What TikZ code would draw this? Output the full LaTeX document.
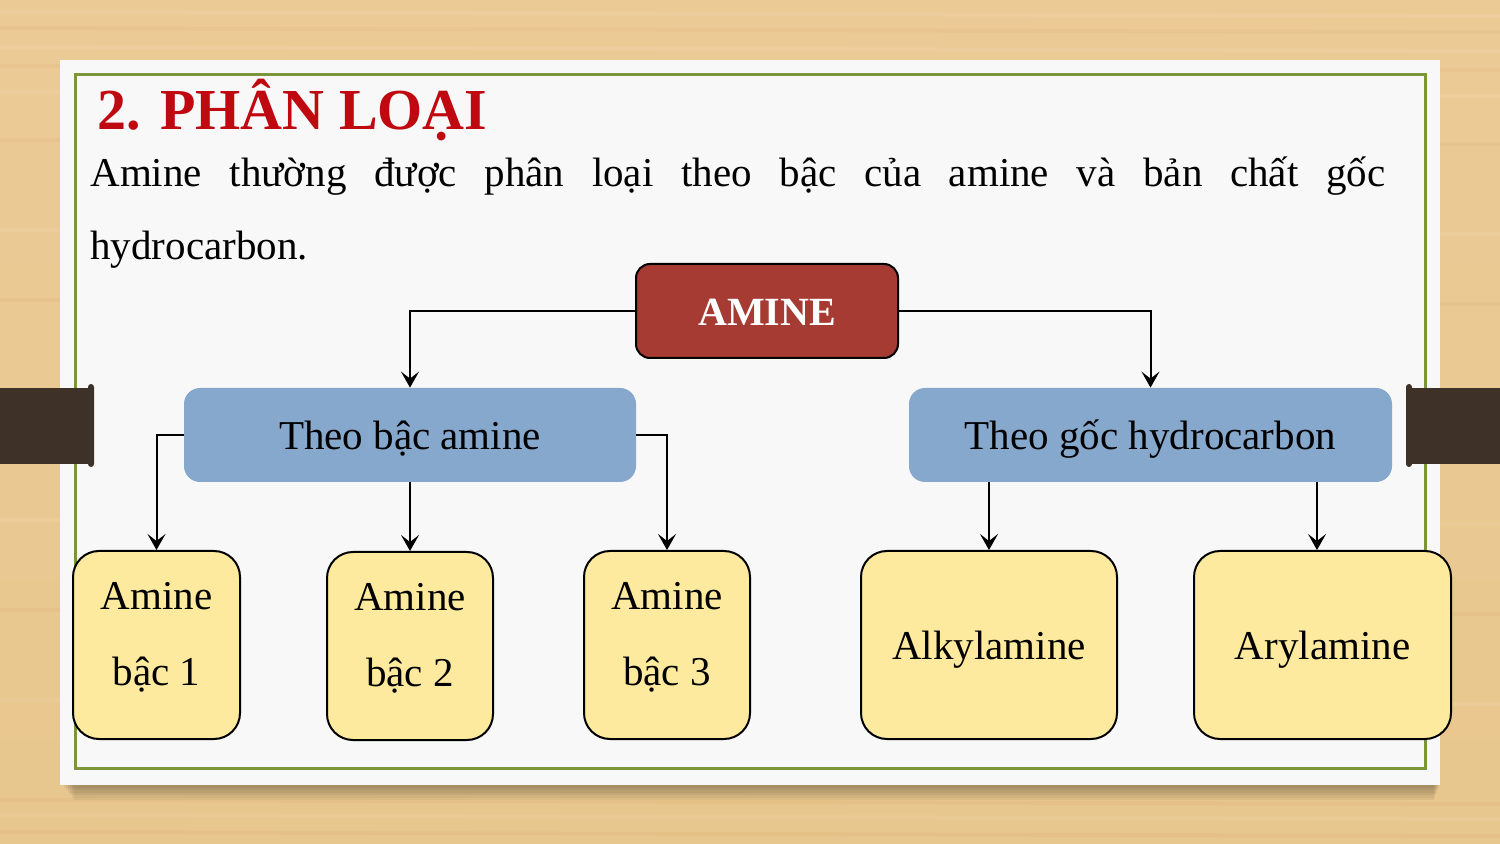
\documentclass[tikz,border=0pt]{standalone}
\usepackage{fontspec}
\setmainfont{Liberation Serif}
\usetikzlibrary{arrows.meta}
\definecolor{woodA}{RGB}{236,202,150}
\definecolor{woodB}{RGB}{232,199,142}
\definecolor{card}{RGB}{248,248,248}
\definecolor{framegreen}{RGB}{124,148,58}
\definecolor{tabbrown}{RGB}{62,50,40}
\definecolor{titlered}{RGB}{192,8,16}
\definecolor{aminered}{RGB}{165,59,50}
\definecolor{midblue}{RGB}{135,168,205}
\definecolor{leafyellow}{RGB}{254,234,158}
\tikzset{
  topbox/.style={fill=aminered, draw=black, line width=1pt, rounded corners=7pt,
    minimum width=131pt, minimum height=47pt, text=white, inner sep=0pt,
    font=\fontsize{20}{24}\selectfont\bfseries, text height=15pt, text depth=0pt},
  midbox/.style={fill=midblue, rounded corners=8pt, minimum height=47pt, inner sep=0pt,
    font=\fontsize{20.5}{24}\selectfont, text height=15pt, text depth=0pt},
  leafbox/.style={fill=leafyellow, draw=black, line width=1pt, rounded corners=13pt,
    minimum height=94pt, inner sep=0pt, align=center,
    font=\fontsize{20.5}{38}\selectfont},
  twoline/.style={text height=50pt, text depth=10pt},
  oneline/.style={text height=15pt, text depth=0pt},
  conn/.style={draw=black, line width=1pt, -{Stealth[length=8pt,width=9pt,inset=3.5pt]}},
  streak/.style={line width=2pt, opacity=0.07}
}
\begin{document}
\begin{tikzpicture}[x=0.5pt,y=-0.5pt]
\useasboundingbox (0,0) rectangle (1500,844);
% wood background
\shade[top color=woodA, bottom color=woodB] (0,0) rectangle (1500,844);
\foreach \yy/\cc in {12/white,28/brown,47/white,66/brown,92/white,140/brown,230/white,300/brown,520/white,610/brown,700/white,800/brown,815/white,832/brown}{
  \draw[streak, \cc] (0,\yy) -- (1500,\yy+4);
}
% shadow of card
\foreach \k in {1,...,6}{
  \fill[black, opacity=0.05] (62+\k*2,785) rectangle (1440-\k,785+\k*2.5);
}
% card
\fill[card] (60,60) rectangle (1440,785);
\draw[framegreen, line width=1.5pt] (75,75) rectangle (1425,768);
% tabs
\fill[tabbrown] (0,388) rectangle (92,464);
\fill[tabbrown, rounded corners=1.5pt] (88,384) rectangle (94,467);
\fill[tabbrown] (1408,388) rectangle (1500,464);
\fill[tabbrown, rounded corners=1.5pt] (1406,384) rectangle (1412,467);
% title and text
\node[anchor=base west, inner sep=0pt, text=titlered, font=\fontsize{29}{34}\selectfont\bfseries] (title) at (97,130) {2. PHÂN LOẠI};
\node[anchor=base west, inner sep=0pt, text width=647.5pt, align=justify, font=\fontsize{20.5}{36.5}\selectfont] (intro) at (90,187)
  {Amine thường được phân loại theo bậc của amine và bản chất gốc\linebreak hydrocarbon.};
% boxes
\node[topbox] (amine) at (767,311) {AMINE};
\node[midbox, minimum width=226pt] (bac) at (410,435) {Theo bậc amine};
\node[midbox, minimum width=241.5pt] (goc) at (1150.5,435) {Theo gốc hydrocarbon};
\node[leafbox, twoline, minimum width=83.5pt] (l1) at (156.5,645) {Amine\\bậc 1};
\node[leafbox, twoline, minimum width=83pt] (l2) at (410,646) {Amine\\bậc 2};
\node[leafbox, twoline, minimum width=83pt] (l3) at (667,645) {Amine\\bậc 3};
\node[leafbox, oneline, minimum width=128pt] (alk) at (989,645) {Alkylamine};
\node[leafbox, oneline, minimum width=128.5pt] (ary) at (1322.5,645) {Arylamine};
% connectors
\draw[conn] (amine.west) -| (bac.north);
\draw[conn] (amine.east) -| (goc.north);
\draw[conn] (bac.west) -| (l1.north);
\draw[conn] (bac.south) -- (l2.north);
\draw[conn] (bac.east) -| (l3.north);
\draw[conn] (alk.north |- goc.south) -- (alk.north);
\draw[conn] ([xshift=-2.75pt]ary.north |- goc.south) -- ([xshift=-2.75pt]ary.north);
\end{tikzpicture}
\end{document}
